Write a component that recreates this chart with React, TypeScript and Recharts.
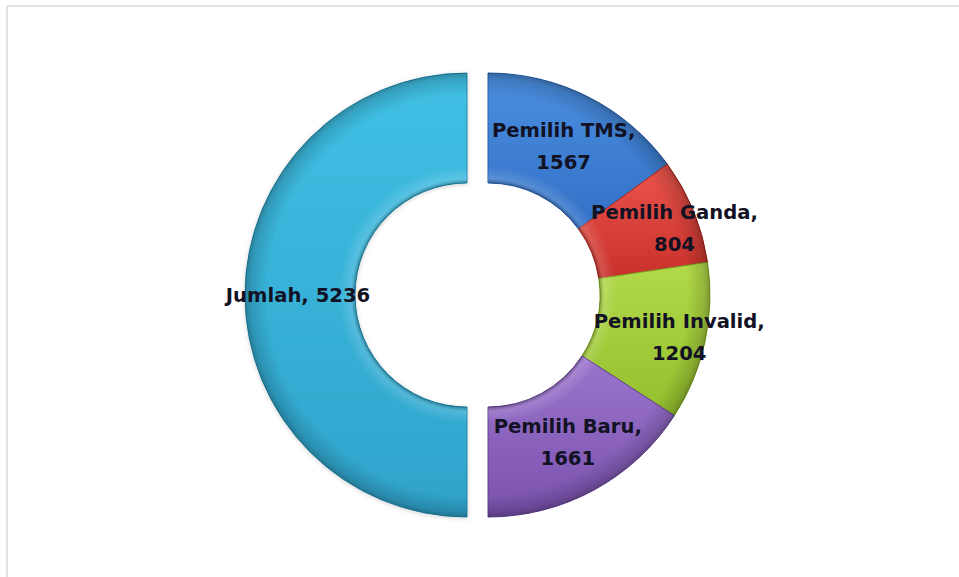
import React from 'react';
import { PieChart, Pie, Cell } from 'recharts';

const names = ['Pemilih TMS', 'Pemilih Ganda', 'Pemilih Invalid', 'Pemilih Baru', 'Jumlah'];
const values = [1567, 804, 1204, 1661, 5236];
const leftGroup = ['Jumlah'];

const colorTop = ['#4b8fe0', '#ea554c', '#b2d94a', '#9b74cd', '#40c0e4'];
const colorBottom = ['#3270c6', '#c9302b', '#94bf2d', '#7a52ae', '#2fa3cb'];
const colorEdge = ['#2a5ea8', '#a8281f', '#78a020', '#62408f', '#2488a8'];

const labelShift: Record<string, [number, number]> = {
  'Pemilih Ganda': [32, -4],
  'Pemilih Invalid': [28, 7],
};

const data = names.map((n, i) => ({ name: n, value: values[i] }));

const W = 959;
const H = 577;
const CY = 295;
const CX_LEFT = 467;
const CX_RIGHT = 488;
const OUTER = 222;
const INNER = 112;
const RAD = Math.PI / 180;

const isLeft = (name: string) => leftGroup.includes(name);

const makeLabel = (side: 'left' | 'right') => (props: any) => {
  const { cx, cy, midAngle, innerRadius, outerRadius, index } = props;
  const name = names[index];
  if ((side === 'left') !== isLeft(name)) return null;
  const r = (innerRadius + outerRadius) / 2;
  const shift = labelShift[name] || [0, 0];
  const x = cx + r * Math.cos(-midAngle * RAD) + shift[0];
  const y = cy + r * Math.sin(-midAngle * RAD) + shift[1];
  const style = {
    fontFamily: 'DejaVu Sans',
    fontWeight: 700,
    fontSize: 19.6,
    fill: '#121224',
  } as React.CSSProperties;
  if (isLeft(name)) {
    return (
      <text x={x - 2} y={y} textAnchor="middle" dominantBaseline="central" style={style}>
        {`${name}, ${values[index]}`}
      </text>
    );
  }
  return (
    <text x={x} y={y} textAnchor="middle" dominantBaseline="central" style={style}>
      <tspan x={x} y={y - 16}>{`${name},`}</tspan>
      <tspan x={x} y={y + 16}>{`${values[index]}`}</tspan>
    </text>
  );
};

const rimStops = (
  <>
    <stop offset="0.504" stopColor="#000" stopOpacity={0.28} />
    <stop offset="0.525" stopColor="#fff" stopOpacity={0.15} />
    <stop offset="0.58" stopColor="#fff" stopOpacity={0} />
    <stop offset="0.9" stopColor="#000" stopOpacity={0} />
    <stop offset="0.975" stopColor="#000" stopOpacity={0.15} />
    <stop offset="1" stopColor="#000" stopOpacity={0.28} />
  </>
);

export default function App() {
  return (
    <div style={{ position: 'fixed', left: 0, top: 0, width: W, height: H, overflow: 'hidden', background: '#fff' }}>
      <div
        style={{
          position: 'absolute',
          left: 6,
          top: 5,
          width: W + 20,
          height: H + 20,
          borderTop: '2px solid #e3e3e3',
          borderLeft: '2px solid #e3e3e3',
        }}
      />
      <div style={{ position: 'absolute', left: 0, top: 0 }}>
        <PieChart width={W} height={H} margin={{ top: 0, right: 0, bottom: 0, left: 0 }}>
          <defs>
            {names.map((n, i) => (
              <linearGradient key={n} id={`base-${i}`} x1="0" y1="0" x2="0" y2="1">
                <stop offset="0" stopColor={colorTop[i]} />
                <stop offset="1" stopColor={colorBottom[i]} />
              </linearGradient>
            ))}
            <radialGradient id="rim-left" gradientUnits="userSpaceOnUse" cx={CX_LEFT} cy={CY} r={OUTER}>
              {rimStops}
            </radialGradient>
            <radialGradient id="rim-right" gradientUnits="userSpaceOnUse" cx={CX_RIGHT} cy={CY} r={OUTER}>
              {rimStops}
            </radialGradient>
            <filter id="soft" x="-10%" y="-10%" width="120%" height="120%">
              <feDropShadow dx="0" dy="1" stdDeviation="2" floodColor="#000" floodOpacity="0.18" />
            </filter>
          </defs>
          <Pie
            data={data}
            dataKey="value"
            nameKey="name"
            cx={CX_LEFT}
            cy={CY}
            innerRadius={INNER}
            outerRadius={OUTER}
            startAngle={90}
            endAngle={-270}
            isAnimationActive={false}
            labelLine={false}
            style={{ filter: 'url(#soft)' }}
          >
            {names.map((n, i) => (
              <Cell
                key={n}
                fill={isLeft(n) ? `url(#base-${i})` : 'none'}
                stroke={isLeft(n) ? colorEdge[i] : 'none'}
                strokeWidth={1}
              />
            ))}
          </Pie>
          <Pie
            data={data}
            dataKey="value"
            nameKey="name"
            cx={CX_RIGHT}
            cy={CY}
            innerRadius={INNER}
            outerRadius={OUTER}
            startAngle={90}
            endAngle={-270}
            isAnimationActive={false}
            labelLine={false}
          >
            {names.map((n, i) => (
              <Cell
                key={n}
                fill={!isLeft(n) ? `url(#base-${i})` : 'none'}
                stroke={!isLeft(n) ? colorEdge[i] : 'none'}
                strokeWidth={1}
              />
            ))}
          </Pie>
          <Pie
            data={data}
            dataKey="value"
            nameKey="name"
            cx={CX_LEFT}
            cy={CY}
            innerRadius={INNER}
            outerRadius={OUTER}
            startAngle={90}
            endAngle={-270}
            isAnimationActive={false}
            labelLine={false}
            label={makeLabel('left')}
          >
            {names.map((n) => (
              <Cell key={n} fill={isLeft(n) ? 'url(#rim-left)' : 'none'} stroke="none" />
            ))}
          </Pie>
          <Pie
            data={data}
            dataKey="value"
            nameKey="name"
            cx={CX_RIGHT}
            cy={CY}
            innerRadius={INNER}
            outerRadius={OUTER}
            startAngle={90}
            endAngle={-270}
            isAnimationActive={false}
            labelLine={false}
            label={makeLabel('right')}
          >
            {names.map((n) => (
              <Cell key={n} fill={!isLeft(n) ? 'url(#rim-right)' : 'none'} stroke="none" />
            ))}
          </Pie>
        </PieChart>
      </div>
    </div>
  );
}
